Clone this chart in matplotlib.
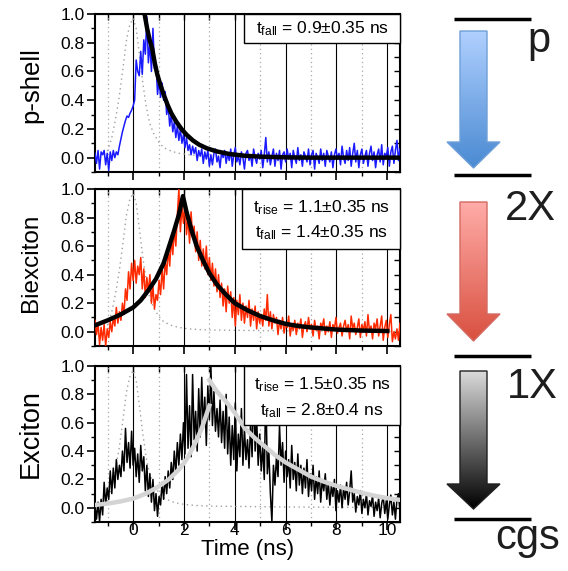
import matplotlib
matplotlib.use("Agg")
import matplotlib.pyplot as plt
import numpy as np
from matplotlib.patches import Rectangle, Polygon
from matplotlib.colors import LinearSegmentedColormap
from matplotlib.ticker import MultipleLocator

plt.rcParams['font.family'] = ['Liberation Sans', 'DejaVu Sans']
plt.rcParams['mathtext.fontset'] = 'custom'
plt.rcParams['mathtext.rm'] = 'Liberation Sans'
plt.rcParams['mathtext.it'] = 'Liberation Sans:italic'

# time base of the measured traces (ns), 0.06 ns bins
time = np.linspace(-1.5, 10.5, 201)

pshell = [
    0.03, -0.04, 0.05, -0.08, 0.04, 0.02, 0.05, -0.05, 0.03, -0.09,
    0.04, -0.02, 0.05, 0.00, 0.04, 0.02, 0.08, 0.13, 0.18, 0.22,
    0.26, 0.29, 0.28, 0.31, 0.33, 0.36, 0.40, 0.68, 0.60, 0.57,
    0.74, 0.58, 0.82, 0.72, 0.98, 0.66, 0.80, 0.60, 0.90, 0.62,
    0.66, 0.44, 0.54, 0.42, 0.52, 0.40, 0.46, 0.30, 0.36, 0.22,
    0.30, 0.18, 0.25, 0.14, 0.22, 0.12, 0.20, 0.10, 0.16, 0.07,
    0.14, 0.05, 0.09, 0.02, 0.08, 0.03, 0.07, -0.02, 0.05, 0.01,
    0.06, -0.04, 0.04, -0.01, 0.05, -0.06,
    0.02, -0.05, 0.03, 0.06, -0.03, 0.01, -0.07, 0.04, 0.00, 0.05,
    -0.04, 0.03, -0.02, 0.06, -0.06, 0.02, 0.07, -0.03, 0.01, -0.05,
    0.04, 0.00, -0.08, 0.03, 0.05, -0.02, 0.02, -0.06, 0.06, 0.00,
    -0.04, 0.03, -0.01, 0.05, -0.07, 0.02, 0.14, -0.03, 0.04, -0.05,
    0.01, 0.06, -0.06, 0.03, -0.02, 0.05, -0.08, 0.02, 0.04, -0.03,
    0.06, -0.01, 0.03, -0.07, 0.05, 0.00, -0.04, 0.07, -0.02, 0.02,
    -0.06, 0.04, 0.01, -0.03, 0.06, -0.05, 0.02, 0.05, -0.08, 0.03,
    0.00, -0.04, 0.06, -0.02, 0.03, -0.06, 0.05, 0.01, -0.03, 0.04,
    -0.07, 0.02, 0.06, -0.01, 0.03, -0.05, 0.08, 0.00, -0.04, 0.05,
    -0.02, 0.07, -0.06, 0.03, 0.10, -0.03, 0.05, -0.07, 0.02, 0.06,
    -0.04, 0.01, 0.05, -0.06, 0.03, 0.08, -0.02, 0.04, -0.07, 0.02,
    0.06, -0.03, 0.09, -0.05, 0.03, 0.01, 0.07, -0.06, 0.04, 0.08,
    -0.04, 0.05, 0.12, -0.02, 0.06,
]

biexciton = [
    0.08, -0.02, 0.06, -0.09, 0.03, -0.06, 0.05, -0.10, 0.02, -0.04,
    0.07, 0.00, 0.10, 0.04, 0.17, 0.06, 0.14, 0.08, 0.20, 0.12,
    0.30, 0.22, 0.42, 0.30, 0.48, 0.36, 0.50, 0.34, 0.46, 0.40,
    0.52, 0.30, 0.44, 0.24, 0.38, 0.28, 0.40, 0.20, 0.32, 0.16,
    0.26, 0.22, 0.36, 0.26, 0.44, 0.30, 0.50, 0.40, 0.58, 0.46,
    0.66, 0.54, 0.72, 0.60, 0.82, 1.00, 0.70, 0.88, 0.76, 0.92,
    0.68, 0.80, 0.62, 0.84, 0.66, 0.74, 0.56, 0.70, 0.50, 0.64,
    0.46, 0.58, 0.44, 0.60, 0.40, 0.52, 0.36, 0.48, 0.32, 0.44,
    0.28, 0.40, 0.24, 0.34, 0.18, 0.30, 0.14, 0.32, 0.20, 0.28,
    0.10, 0.24, 0.04, 0.22, 0.12, 0.26, 0.08, 0.20, 0.06, 0.18,
    0.10, 0.22, 0.04, 0.16, 0.08, 0.18, 0.02, 0.14, 0.06, 0.12,
    0.04, 0.16, 0.08, 0.26, 0.04, 0.14, 0.02, 0.12, 0.06, 0.10,
    -0.02, 0.08,
    0.02, 0.10, -0.01, 0.06, 0.03, 0.11, -0.03, 0.05, 0.01, 0.08,
    -0.02, 0.06, 0.02, 0.09, -0.04, 0.04, 0.07, 0.00, 0.10, 0.02,
    0.05, -0.03, 0.08, 0.01, 0.04, -0.05, 0.06, 0.03, 0.09, -0.02,
    0.04, 0.00, 0.07, -0.04, 0.05, 0.02, 0.10, -0.01, 0.03, 0.06,
    -0.03, 0.04, 0.08, 0.00, 0.05, -0.05, 0.11, 0.02, 0.06, -0.02,
    0.03, 0.09, -0.04, 0.05, 0.01, 0.07, -0.03, 0.12, 0.00, 0.04,
    -0.05, 0.06, 0.02, 0.09, -0.03, 0.04, 0.11, -0.06, 0.03, 0.08,
    -0.04, 0.05, 0.12, -0.07, 0.00, -0.05, 0.02, -0.06, 0.06,
]

exciton = [
    0.02, -0.08, 0.04, -0.10, 0.06, -0.05, 0.18, 0.02, 0.14, 0.06,
    0.26, 0.10, 0.28, 0.14, 0.34, 0.20, 0.30, 0.22, 0.40, 0.26,
    0.56, 0.32, 0.46, 0.28, 0.54, 0.30, 0.42, 0.22, 0.38, 0.18,
    0.44, 0.26, 0.36, 0.12, 0.30, 0.08, 0.24, 0.04, 0.20, -0.02,
    0.10, -0.06, 0.08, 0.02, 0.18, 0.06, 0.22, 0.10, 0.26, 0.14,
    0.32, 0.20, 0.40, 0.24, 0.46, 0.30, 0.52, 0.34, 0.60, 0.38,
    0.94, 0.42, 0.72, 0.36, 0.94, 0.48, 0.68, 0.40, 0.84, 0.50,
    0.92, 0.56, 0.78, 0.44, 0.86, 0.62, 1.00, 0.58, 0.82, 0.54,
    0.70, 0.50, 0.76, 0.46, 0.68, 0.42, 0.80, 0.38, 0.64, 0.30,
    0.58, 0.34, 0.74, 0.26, 0.52, 0.36, 0.70, 0.30, 0.56, 0.34,
    0.48, 0.28, 0.60, 0.36, 0.90, 0.40, 0.64, 0.30, 0.52, 0.26,
    0.44, 0.20, 0.86, 0.24, 0.40, 0.10, -0.10, 0.30, 0.16, 0.36,
    0.22, 0.58, 0.30, 0.46, 0.18, 0.40, 0.22, 0.34, 0.14, 0.44,
    0.20, 0.32, 0.12, 0.38, 0.16, 0.30, 0.10, 0.28, 0.14, 0.34,
    0.08, 0.24, 0.12, 0.30, 0.06, 0.22, 0.10, 0.26, 0.04, 0.20,
    0.12, 0.24, 0.06, 0.18, 0.02, 0.16, 0.08, 0.20, -0.02, 0.12,
    0.04, 0.16, 0.00, 0.14, 0.06, 0.18, 0.02, 0.12, 0.26, 0.04,
    0.10, -0.03, 0.08, 0.02, 0.12, -0.04, 0.06, 0.00, 0.10, -0.05,
    0.05, 0.01, 0.09, -0.06, 0.04, -0.02, 0.07, -0.07, 0.03, 0.08,
    -0.04, 0.05, -0.08, 0.02, 0.09, -0.05, 0.04, -0.08, 0.06, 0.10,
    -0.03,
]

# laser / instrument response (grey dotted, same in all panels)
irf_t = [-1.5, -1.2, -1.0, -0.85, -0.7, -0.55, -0.4, -0.27, -0.14, 0.0,
         0.12, 0.26, 0.39, 0.52, 0.65, 0.8, 1.0, 1.2, 1.5, 1.8, 2.2, 2.6,
         3.0, 4.0, 5.0, 6.0, 7.0, 8.0, 9.0, 10.0, 10.5]
irf = [0.0, 0.01, 0.05, 0.13, 0.26, 0.42, 0.62, 0.81, 0.92, 0.97,
       0.90, 0.70, 0.51, 0.35, 0.24, 0.17, 0.11, 0.07, 0.045, 0.03, 0.02,
       0.015, 0.012, 0.01, 0.008, 0.006, 0.005, 0.004, 0.003, 0.002, 0.002]

# fitted curves
fit_p_t = [0.35, 0.45, 0.55, 0.65, 0.75, 0.85, 0.95, 1.05, 1.2, 1.35, 1.5,
           1.7, 1.9, 2.1, 2.35, 2.6, 2.9, 3.3, 3.8, 4.4, 5.0, 6.0, 7.0, 8.0,
           9.0, 10.0, 10.5]
fit_p = [1.10, 1.00, 0.90, 0.82, 0.76, 0.66, 0.58, 0.52, 0.44, 0.37, 0.31,
         0.25, 0.20, 0.16, 0.12, 0.09, 0.065, 0.043, 0.025, 0.013, 0.007,
         0.002, 0.0, 0.0, 0.0, 0.0, 0.0]

fit_xx_t = [-1.5, -1.0, -0.5, 0.0, 0.3, 0.6, 0.9, 1.2, 1.4, 1.6, 1.8, 1.96,
            2.1, 2.3, 2.5, 2.75, 3.0, 3.3, 3.65, 4.0, 4.5, 5.0, 5.5, 6.0,
            6.5, 7.0, 8.0, 9.0, 10.0]
fit_xx = [0.045, 0.08, 0.12, 0.17, 0.22, 0.29, 0.37, 0.48, 0.59, 0.70, 0.82,
          0.95, 0.84, 0.71, 0.60, 0.50, 0.41, 0.33, 0.26, 0.20, 0.15, 0.11,
          0.08, 0.055, 0.04, 0.03, 0.015, 0.008, 0.005]

fit_x_rise_t = [-1.5, -1.0, -0.5, 0.0, 0.5, 1.0, 1.4, 1.8, 2.1, 2.4, 2.7, 3.0]
fit_x_rise = [0.02, 0.03, 0.045, 0.065, 0.10, 0.15, 0.20, 0.27, 0.34, 0.44,
              0.56, 0.72]
fit_x_fall_t = [3.0, 3.3, 3.65, 4.0, 4.4, 4.8, 5.2, 5.6, 6.0, 6.5, 7.0, 7.5,
                8.0, 8.5, 9.0, 9.5, 10.0, 10.5]
fit_x_fall = [0.90, 0.82, 0.75, 0.67, 0.56, 0.49, 0.43, 0.37, 0.32, 0.27,
              0.22, 0.185, 0.155, 0.13, 0.105, 0.085, 0.068, 0.056]

labels = ["p-shell", "Biexciton", "Exciton"]
label_sizes = [18.5, 17.5, 19.5]
label_y = [0.55, 0.53, 0.57]
box_lines = [
    [r"$\mathregular{t_{fall}}$ = 0.9±0.35 ns"],
    [r"$\mathregular{t_{rise}}$ = 1.1±0.35 ns", r"$\mathregular{t_{fall}}$ = 1.4±0.35 ns"],
    [r"$\mathregular{t_{rise}}$ = 1.5±0.35 ns", r"$\mathregular{t_{fall}}$ = 2.8±0.4 ns"],
]

fig = plt.figure(figsize=(5.68, 5.71), dpi=100)
L, W = 95 / 568, 305 / 568
ax_p = fig.add_axes([L, 1 - 172 / 571, W, 158 / 571])
ax_xx = fig.add_axes([L, 1 - 346 / 571, W, 157 / 571])
ax_x = fig.add_axes([L, 1 - 522 / 571, W, 156 / 571])
axes = [ax_p, ax_xx, ax_x]

# boxes: (x0, y0, baselines) in axes fraction
box_geo = [(0.49, 0.816, [0.88]), (0.482, 0.618, [0.854, 0.694]),
           (0.489, 0.622, [0.853, 0.686])]

for k, ax in enumerate(axes):
    ax.set_xlim(-1.5, 10.5)
    ax.set_ylim(-0.1, 1.0)
    ax.xaxis.set_major_locator(MultipleLocator(2))
    ax.xaxis.set_minor_locator(MultipleLocator(1))
    ax.yaxis.set_major_locator(MultipleLocator(0.2))
    ax.yaxis.set_minor_locator(MultipleLocator(0.1))
    ax.grid(which='major', axis='x', color='black', lw=0.8)
    ax.grid(which='minor', axis='x', color='#a8a8a8', lw=0.9, ls=(0, (1, 2.5)))
    ax.set_axisbelow(True)
    for s in ax.spines.values():
        s.set_linewidth(1.5)
    ax.tick_params(which='major', direction='out', length=6, width=1.2,
                   labelsize=12.5, pad=1.5, top=False, right=False)
    ax.tick_params(which='minor', direction='out', length=3, width=1.0,
                   top=False, right=False)
    ax.yaxis.set_major_formatter(matplotlib.ticker.FormatStrFormatter('%.1f'))
    if k < 2:
        ax.tick_params(labelbottom=False)

    sx = ax.secondary_xaxis('top')
    sx.set_xticks(np.arange(-1, 11))
    sx.set_xticklabels([])
    sx.tick_params(direction='in', length=4, width=1.0)
    sy = ax.secondary_yaxis('right')
    sy.set_yticks(np.arange(-0.1, 1.05, 0.1))
    sy.set_yticklabels([])
    sy.tick_params(direction='in', length=4, width=1.0)

    ax.plot(irf_t, irf, color='#a0a0a0', lw=1.0, ls=(0, (1, 2.5)), zorder=2)

    ax.set_ylabel(labels[k], fontsize=label_sizes[k], va='center')
    ax.yaxis.set_label_coords(-0.21, label_y[k])

    x0, y0, bases = box_geo[k]
    ax.add_patch(Rectangle((x0, y0), 1 - x0, 1 - y0, transform=ax.transAxes,
                           fc='white', ec='black', lw=1.0, zorder=6,
                           clip_on=False))
    xc = x0 + (1 - x0) / 2
    for line, yb in zip(box_lines[k], bases):
        ax.text(xc, yb, line, transform=ax.transAxes, ha='center',
                va='baseline', fontsize=12.5, zorder=7)

ax_p.plot(time, pshell, color='#1a1aff', lw=1.1, zorder=3)
ax_p.plot(fit_p_t, fit_p, color='black', lw=3.2, zorder=4)

ax_xx.plot(time, biexciton, color='#ff2a00', lw=1.1, zorder=3)
ax_xx.plot(fit_xx_t, fit_xx, color='black', lw=3.2, zorder=4)

ax_x.plot(time, exciton, color='black', lw=1.1, zorder=3)
ax_x.plot(fit_x_rise_t, fit_x_rise, color='#d4d4d4', lw=3.2, zorder=4)
ax_x.plot(fit_x_fall_t, fit_x_fall, color='#d4d4d4', lw=3.2, zorder=4)
ax_x.set_xticks([0, 2, 4, 6, 8, 10])
ax_x.tick_params(axis='x', which='major', pad=-5)
ax_x.set_xlabel("Time (ns)", fontsize=16, va='top')
ax_x.xaxis.set_label_coords(0.5, -0.11)

# level scheme on the right, drawn in pixel coordinates
dia = fig.add_axes([0, 0, 1, 1], zorder=10)
dia.set_axis_off()

level_y = [19, 175, 356, 519]
level_names = ["p", "2X", "1X", "cgs"]
name_pos = [(527, 52), (505, 220), (507, 398), (495, 549)]
arrow_rows = [(31, 142, 168), (202, 314, 341), (371, 484, 509)]
arrow_colors = [('#b0d0ff', '#4a8ad2', '#6f9fd8'),
                ('#ffaca8', '#d9503f', '#d46a62'),
                ('#dadada', '#000000', '#202020')]
SHAFT_L, SHAFT_R, HEAD_L, HEAD_R = 460, 487, 447, 500
MID = (HEAD_L + HEAD_R) / 2

for y in level_y:
    dia.plot([454, 531], [y, y], color='black', lw=2.5, solid_capstyle='butt')
for name, (xt, yt) in zip(level_names, name_pos):
    dia.text(xt, yt, name, fontsize=30, color='#1e1e1e', ha='left',
             va='baseline')

for (top, head, tip), (c_top, c_bot, edge) in zip(arrow_rows, arrow_colors):
    xs = [SHAFT_L, SHAFT_R, SHAFT_R, HEAD_R, MID, HEAD_L, SHAFT_L]
    ys = [top, top, head, head, tip, head, head]
    poly = Polygon(np.column_stack([xs, ys]), closed=True, fc='none',
                   ec=edge, lw=1.0, zorder=3)
    dia.add_patch(poly)
    cmap = LinearSegmentedColormap.from_list('grad', [c_top, c_bot])
    grad = np.linspace(0, 1, 256).reshape(-1, 1)
    im = dia.imshow(grad, cmap=cmap, extent=(HEAD_L, HEAD_R, tip, top),
                    aspect='auto', interpolation='bilinear', zorder=2)
    im.set_clip_path(poly)

dia.set_xlim(0, 568)
dia.set_ylim(571, 0)

fig.savefig("out.png", dpi=100)
